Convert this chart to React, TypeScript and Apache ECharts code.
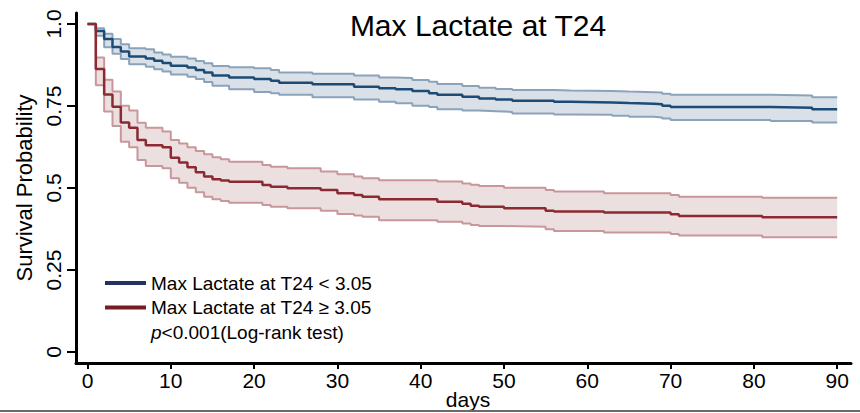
import React, { useEffect, useRef } from "react";
import * as echarts from "echarts";

// ---------- data ----------
const titleText = "Max Lactate at T24";
const xName = "days";
const yName = "Survival Probability";
const legendLabels = ["Max Lactate at T24 < 3.05", "Max Lactate at T24 ≥ 3.05"];
const pValueText = "<0.001(Log-rank test)";

const xTicks = [0, 10, 20, 30, 40, 50, 60, 70, 80, 90];
const yTicks = [0, 0.25, 0.5, 0.75, 1];
const yTickLabels = ["0", "0.25", "0.5", "0.75", "1.0"];

// Group: Max Lactate at T24 < 3.05
const lowDays = [0, 1, 2, 3, 4, 5, 7, 8, 9, 10, 12, 13, 14, 15, 17, 20, 22, 23, 27, 32, 35, 37, 39, 41, 42, 45, 47, 49, 51, 56, 58, 63, 65, 68, 69, 70, 82, 87, 90];
const lowSurv = [1.0, 0.979, 0.954, 0.93, 0.916, 0.901, 0.895, 0.888, 0.881, 0.873, 0.867, 0.86, 0.852, 0.843, 0.837, 0.832, 0.827, 0.821, 0.816, 0.809, 0.804, 0.801, 0.796, 0.789, 0.784, 0.778, 0.773, 0.77, 0.766, 0.763, 0.761, 0.759, 0.757, 0.755, 0.751, 0.747, 0.745, 0.74, 0.74];
const lowUpper = [1.0, 0.987, 0.97, 0.954, 0.938, 0.926, 0.923, 0.913, 0.907, 0.9, 0.895, 0.887, 0.88, 0.872, 0.868, 0.865, 0.86, 0.852, 0.848, 0.843, 0.837, 0.835, 0.829, 0.824, 0.817, 0.811, 0.806, 0.802, 0.799, 0.797, 0.796, 0.794, 0.792, 0.791, 0.787, 0.784, 0.782, 0.777, 0.777];
const lowLower = [1.0, 0.964, 0.929, 0.909, 0.893, 0.877, 0.87, 0.862, 0.855, 0.846, 0.839, 0.832, 0.823, 0.812, 0.801, 0.793, 0.789, 0.784, 0.777, 0.77, 0.763, 0.758, 0.751, 0.747, 0.74, 0.736, 0.734, 0.732, 0.727, 0.724, 0.723, 0.72, 0.717, 0.715, 0.712, 0.707, 0.704, 0.7, 0.7];

// Group: Max Lactate at T24 >= 3.05
const highDays = [0, 1, 2, 3, 4, 5, 6, 7, 9, 10, 11, 12, 13, 14, 15, 16, 17, 21, 22, 24, 28, 30, 32, 33, 35, 42, 45, 46, 47, 50, 55, 56, 62, 70, 71, 81, 90];
const highSurv = [1.0, 0.863, 0.785, 0.748, 0.7, 0.684, 0.646, 0.63, 0.624, 0.592, 0.578, 0.563, 0.548, 0.535, 0.527, 0.523, 0.519, 0.509, 0.504, 0.499, 0.494, 0.484, 0.479, 0.473, 0.466, 0.458, 0.452, 0.446, 0.443, 0.438, 0.431, 0.428, 0.425, 0.42, 0.415, 0.411, 0.411];
const highUpper = [1.0, 0.898, 0.83, 0.794, 0.751, 0.736, 0.699, 0.684, 0.672, 0.646, 0.636, 0.624, 0.613, 0.603, 0.594, 0.588, 0.58, 0.57, 0.565, 0.56, 0.55, 0.542, 0.535, 0.53, 0.524, 0.52, 0.514, 0.51, 0.506, 0.501, 0.494, 0.489, 0.484, 0.479, 0.473, 0.47, 0.47];
const highLower = [1.0, 0.813, 0.733, 0.689, 0.641, 0.624, 0.585, 0.567, 0.56, 0.53, 0.516, 0.501, 0.487, 0.473, 0.466, 0.46, 0.455, 0.448, 0.443, 0.438, 0.431, 0.421, 0.416, 0.412, 0.402, 0.397, 0.392, 0.387, 0.384, 0.382, 0.374, 0.369, 0.364, 0.36, 0.355, 0.35, 0.35];

// ---------- styles ----------
const FONT = "'Liberation Sans', Arial, Helvetica, sans-serif";
const BLUE = "#1c4b76";
const BLUE_CI = "#8ba3b9";
const BLUE_FILL = "#d9e0e8";
const BLUE_LEGEND = "#24325f";
const RED = "#8c2a33";
const RED_CI = "#c8979b";
const RED_FILL = "#ecdfe0";
const RED_LEGEND = "#771c23";

const zip = (xs: number[], ys: number[]) => xs.map((x, i) => [x, ys[i]]);

// step-shaped polygon (upper edge forward, lower edge backward) in data space
function stepBand(days: number[], upper: number[], lower: number[]): number[][] {
  const top: number[][] = [];
  const bottom: number[][] = [];
  for (let i = 0; i < days.length; i++) {
    if (i > 0) {
      top.push([days[i], upper[i - 1]]);
      bottom.push([days[i], lower[i - 1]]);
    }
    top.push([days[i], upper[i]]);
    bottom.push([days[i], lower[i]]);
  }
  return top.concat(bottom.reverse());
}

function groupSeries(
  key: string,
  label: string,
  days: number[],
  surv: number[],
  upper: number[],
  lower: number[],
  color: string,
  ciColor: string,
  fill: string,
  zBase: number
): any[] {
  const common = { type: "line", step: "end", symbol: "none", silent: true, animation: false };
  const band = stepBand(days, upper, lower);
  return [
    {
      type: "custom",
      name: key + "-band",
      silent: true,
      z: zBase,
      data: [[days[0], upper[0]]],
      renderItem: (_params: any, api: any) => ({
        type: "polygon",
        shape: { points: band.map((p) => api.coord(p)) },
        style: { fill, stroke: "none" },
      }),
    },
    {
      ...common,
      name: key + "-upper",
      data: zip(days, upper),
      lineStyle: { color: ciColor, width: 2 },
      z: zBase + 1,
    },
    {
      ...common,
      name: key + "-lower",
      data: zip(days, lower),
      lineStyle: { color: ciColor, width: 2 },
      z: zBase + 1,
    },
    {
      ...common,
      name: label,
      data: zip(days, surv),
      lineStyle: { color, width: 2.5 },
      z: zBase + 3,
    },
  ];
}

export default function App() {
  const ref = useRef<HTMLDivElement>(null);

  useEffect(() => {
    if (!ref.current) return;
    const chart = echarts.init(ref.current, undefined, { renderer: "svg" });

    const option: any = {
      animation: false,
      backgroundColor: "#ffffff",
      grid: { left: 76, right: 9, top: 13, bottom: 50, outerBoundsMode: "none" },
      xAxis: {
        type: "value",
        min: -1.38,
        max: 91.66,
        name: xName,
        nameLocation: "middle",
        nameGap: 26,
        nameMoveOverlap: false,
        nameTextStyle: { fontFamily: FONT, fontSize: 21, color: "#000", padding: [0, 0, 0, 9] },
        axisLine: { show: true, onZero: false, lineStyle: { color: "#000", width: 3 } },
        axisTick: { show: true, customValues: xTicks, length: 6, lineStyle: { color: "#000", width: 2 } },
        axisLabel: {
          customValues: xTicks,
          fontFamily: FONT,
          fontSize: 21,
          color: "#000",
          margin: 7,
        },
        splitLine: { show: false },
      },
      yAxis: {
        type: "value",
        min: -0.0335,
        max: 1.0335,
        name: yName,
        nameLocation: "middle",
        nameGap: 41,
        nameMoveOverlap: false,
        nameTextStyle: { fontFamily: FONT, fontSize: 22, color: "#000" },
        axisLine: { show: true, onZero: false, lineStyle: { color: "#000", width: 3 } },
        axisTick: { show: true, customValues: yTicks, length: 9, lineStyle: { color: "#000", width: 2 } },
        axisLabel: {
          customValues: yTicks,
          rotate: 90,
          fontFamily: FONT,
          fontSize: 21,
          color: "#000",
          margin: 12,
          formatter: (v: number) => {
            const i = yTicks.findIndex((t) => Math.abs(t - v) < 1e-9);
            return i >= 0 ? yTickLabels[i] : "";
          },
        },
        splitLine: { show: false },
      },
      series: [
        ...groupSeries("low", legendLabels[0], lowDays, lowSurv, lowUpper, lowLower, BLUE, BLUE_CI, BLUE_FILL, 2),
        ...groupSeries("high", legendLabels[1], highDays, highSurv, highUpper, highLower, RED, RED_CI, RED_FILL, 6),
      ],
      graphic: [
        {
          type: "text",
          z: 100,
          x: 478,
          y: 25,
          style: {
            text: titleText,
            fontFamily: FONT,
            fontSize: 30,
            fill: "#000",
            textAlign: "center",
            textVerticalAlign: "middle",
          },
        },
        { type: "rect", z: 100, shape: { x: 105, y: 281, width: 41, height: 4 }, style: { fill: BLUE_LEGEND } },
        { type: "rect", z: 100, shape: { x: 105, y: 305.5, width: 41, height: 4 }, style: { fill: RED_LEGEND } },
        {
          type: "text",
          z: 100,
          x: 151,
          y: 283,
          style: { text: legendLabels[0], fontFamily: FONT, fontSize: 19, fill: "#000", textVerticalAlign: "middle" },
        },
        {
          type: "text",
          z: 100,
          x: 151,
          y: 307.5,
          style: { text: legendLabels[1], fontFamily: FONT, fontSize: 19, fill: "#000", textVerticalAlign: "middle" },
        },
        {
          type: "text",
          z: 100,
          x: 151,
          y: 332.5,
          style: {
            text: "{i|p}" + pValueText,
            fontFamily: FONT,
            fontSize: 19,
            fill: "#000",
            textVerticalAlign: "middle",
            rich: { i: { fontStyle: "italic", fontFamily: FONT, fontSize: 19, fill: "#000" } },
          },
        },
        { type: "rect", z: 100, shape: { x: 0, y: 410, width: 860, height: 2 }, style: { fill: "#6b6b6b" } },
      ],
    };

    chart.setOption(option);
    return () => chart.dispose();
  }, []);

  return (
    <div
      ref={ref}
      style={{ position: "fixed", left: 0, top: 0, width: 860, height: 413, background: "#fff" }}
    />
  );
}
